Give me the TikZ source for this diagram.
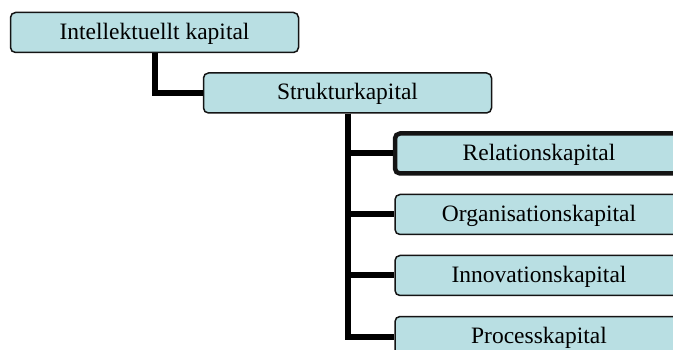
\documentclass[tikz,border=0pt]{standalone}
\usepackage{fontspec}
\setmainfont{Liberation Serif}
\definecolor{boxfill}{RGB}{185,223,227}
\definecolor{boxline}{RGB}{20,20,20}
\begin{document}
\begin{tikzpicture}[x=1pt,y=-1pt,
  capbox/.style={draw=boxline, line width=1.5pt, rounded corners=5pt, fill=boxfill,
    minimum width=288pt, minimum height=40pt, inner sep=0pt,
    font=\fontsize{23.5}{28}\selectfont, text height=15pt, text depth=1pt},
  focusbox/.style={capbox, line width=4.5pt},
  link/.style={line width=6pt, black}]
\useasboundingbox (0,0) rectangle (673,350);
\clip (0,0) rectangle (673,350);

% hierarchy boxes
\node[capbox] (ik) at (154.5,32.5) {Intellektuellt kapital};
\node[capbox] (sk) at (347.5,93) {Strukturkapital};
\node[focusbox] (rk) at (539,153.5) {Relationskapital};
\node[capbox] (ok) at (539,214.5) {Organisationskapital};
\node[capbox] (nk) at (539,275.5) {Innovationskapital};
\node[capbox] (pk) at (539,336.5) {Processkapital};

% elbow connectors
\draw[link] (ik.south) |- (sk.west);
\draw[link] (sk.south) |- (rk.west);
\draw[link] (sk.south) |- (ok.west);
\draw[link] (sk.south) |- (nk.west);
\draw[link] (sk.south) |- (pk.west);
\end{tikzpicture}
\end{document}
